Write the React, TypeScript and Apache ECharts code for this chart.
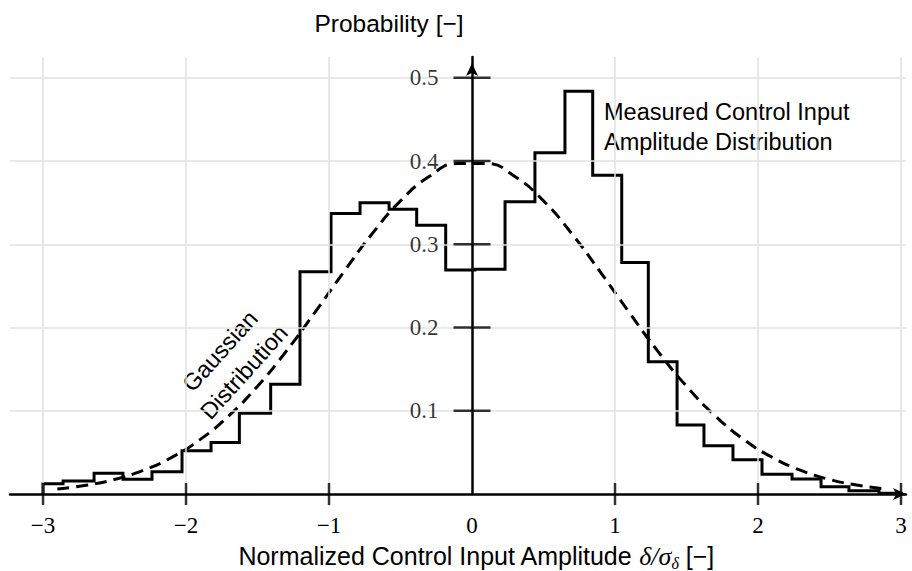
import React, { useEffect, useRef } from 'react';
import * as echarts from 'echarts';

// Histogram bin edges and heights
const binEdges = [-3.0, -2.86, -2.643, -2.441, -2.238, -2.028, -1.825, -1.627, -1.408, -1.203, -0.986, -0.783, -0.58, -0.387, -0.184, 0.02, 0.231, 0.44, 0.65, 0.844, 1.047, 1.233, 1.434, 1.622, 1.825, 2.028, 2.238, 2.441, 2.636, 2.846, 3.0];
const binHeights = [0.0124, 0.0156, 0.0248, 0.0176, 0.0268, 0.052, 0.062, 0.097, 0.132, 0.267, 0.337, 0.35, 0.342, 0.323, 0.269, 0.27, 0.351, 0.41, 0.484, 0.383, 0.278, 0.159, 0.083, 0.058, 0.041, 0.0236, 0.018, 0.0088, 0.004, 0.001];

// Gaussian curve points
const gaussX = [-2.9, -2.7, -2.5, -2.3, -2.1, -1.9, -1.7, -1.5, -1.3, -1.1, -0.9, -0.7, -0.5, -0.3, -0.1, 0.1, 0.3, 0.5, 0.7, 0.9, 1.1, 1.3, 1.5, 1.7, 1.9, 2.1, 2.3, 2.5, 2.7, 2.9];
const gaussY = [0.006, 0.0104, 0.0175, 0.0283, 0.044, 0.0656, 0.094, 0.1295, 0.1714, 0.2179, 0.2661, 0.3123, 0.3521, 0.3814, 0.397, 0.397, 0.3814, 0.3521, 0.3123, 0.2661, 0.2179, 0.1714, 0.1295, 0.094, 0.0656, 0.044, 0.0283, 0.0175, 0.0104, 0.006];

// Tick values
const xTicks = [-3, -2, -1, 0, 1, 2, 3];
const yTicks = [0.1, 0.2, 0.3, 0.4, 0.5];

const SANS = '"Liberation Sans", Arial, sans-serif';
const SERIF = '"Liberation Serif", "Times New Roman", serif';

export default function App() {
  const ref = useRef<HTMLDivElement>(null);
  useEffect(() => {
    if (!ref.current) return;
    const chart = echarts.init(ref.current, null, { renderer: 'svg' });

    const histPts: number[][] = [[binEdges[0], 0]];
    for (let i = 0; i < binHeights.length; i++) {
      histPts.push([binEdges[i], binHeights[i]]);
      histPts.push([binEdges[i + 1], binHeights[i]]);
    }
    histPts.push([binEdges[binEdges.length - 1], 0]);

    const gaussPts = gaussX.map((x, i) => [x, gaussY[i]]);
    const fmtX = (v: number) => {
      if (Math.abs(v - Math.round(v)) > 1e-6) return '';
      const r = Math.round(v);
      return r < 0 ? '\u2212' + Math.abs(r) : String(r);
    };

    const gridColor = '#e2e2e2';

    chart.setOption({
      animation: false,
      backgroundColor: '#ffffff',
      grid: { left: 10, right: 6, top: 57, bottom: 77, containLabel: false, outerBoundsMode: 'none' },
      xAxis: {
        type: 'value',
        min: -3.231,
        max: 3.035,
        z: 10,
        axisLine: {
          onZero: true,
          symbol: ['none', 'arrow'],
          symbolSize: [9, 13],
          lineStyle: { color: '#000', width: 2.5 },
        },
        axisTick: { show: false },
        splitLine: { show: false },
        axisLabel: {
          customValues: xTicks,
          formatter: fmtX,
          fontFamily: SERIF,
          fontSize: 23,
          color: '#000',
          margin: 20,
        },
      },
      yAxis: {
        type: 'value',
        min: 0,
        max: 0.525,
        interval: 0.1,
        z: 10,
        axisLine: {
          onZero: true,
          symbol: ['none', 'arrow'],
          symbolSize: [9, 13],
          symbolOffset: [0, -6],
          lineStyle: { color: '#000', width: 2.5 },
        },
        axisTick: { show: false },
        splitLine: { show: false },
        axisLabel: { show: false },
      },
      series: [
        {
          type: 'line',
          name: 'gridlines',
          data: [[0, 0]],
          symbol: 'none',
          lineStyle: { width: 0 },
          silent: true,
          z: 1,
          markLine: {
            silent: true,
            symbol: 'none',
            label: { show: false },
            lineStyle: { color: gridColor, width: 1.5, type: 'solid' },
            data: [
              ...xTicks.filter((v) => v !== 0).map((v) => ({ xAxis: v })),
              ...yTicks.map((v) => ({ yAxis: v })),
            ],
          },
        },
        {
          type: 'line',
          name: 'Gaussian',
          data: gaussPts,
          smooth: true,
          showSymbol: false,
          symbol: 'none',
          silent: true,
          z: 3,
          lineStyle: { color: '#000', width: 3, type: [12, 7] },
        },
        {
          type: 'line',
          name: 'Measured',
          data: histPts,
          showSymbol: false,
          symbol: 'none',
          silent: true,
          z: 4,
          lineStyle: { color: '#000', width: 3, join: 'miter' },
        },
        {
          type: 'scatter',
          name: 'xticks',
          data: xTicks.filter((v) => v !== 0).map((v) => [v, 0]),
          symbol: 'rect',
          symbolSize: [2.5, 22],
          itemStyle: { color: '#000' },
          silent: true,
          z: 11,
        },
        {
          type: 'scatter',
          name: 'yticks',
          data: yTicks.map((v) => [0, v]),
          symbol: 'rect',
          symbolSize: [37, 2.5],
          itemStyle: { color: '#000' },
          silent: true,
          z: 11,
          label: {
            show: true,
            position: 'left',
            distance: 15,
            formatter: (p: any) => Number(p.value[1]).toFixed(1),
            fontFamily: SERIF,
            fontSize: 23,
            color: '#000',
          },
        },
      ],
      graphic: [
        {
          type: 'text',
          x: 389,
          y: 23,
          style: {
            text: 'Probability [\u2212]',
            font: '24.5px ' + SANS,
            fill: '#000',
            align: 'center',
            verticalAlign: 'middle',
          },
        },
        {
          type: 'text',
          x: 476,
          y: 556,
          style: {
            text: '{a|Normalized Control Input Amplitude }{m|\u03b4/\u03c3}{s|\u03b4}{a| [\u2212]}',
            align: 'center',
            verticalAlign: 'middle',
            fill: '#000',
            rich: {
              a: { fontFamily: SANS, fontSize: 25, lineHeight: 30, verticalAlign: 'middle', fill: '#000' },
              m: { fontFamily: SERIF, fontStyle: 'italic', fontSize: 26, lineHeight: 30, verticalAlign: 'middle', fill: '#000' },
              s: { fontFamily: SERIF, fontStyle: 'italic', fontSize: 16, lineHeight: 16, verticalAlign: 'bottom', fill: '#000' },
            },
          },
        },
        {
          type: 'text',
          x: 604,
          y: 97,
          style: {
            text: 'Measured Control Input\nAmplitude Distribution',
            font: '23.5px ' + SANS,
            lineHeight: 30,
            fill: '#000',
            align: 'left',
            verticalAlign: 'top',
          },
        },
        {
          type: 'text',
          x: 220,
          y: 351,
          rotation: (48 * Math.PI) / 180,
          style: {
            text: 'Gaussian',
            font: '23.5px ' + SANS,
            fill: '#000',
            align: 'center',
            verticalAlign: 'middle',
          },
        },
        {
          type: 'text',
          x: 244,
          y: 372,
          rotation: (48 * Math.PI) / 180,
          style: {
            text: 'Distribution',
            font: '23.5px ' + SANS,
            fill: '#000',
            align: 'center',
            verticalAlign: 'middle',
          },
        },
      ],
    });
    return () => chart.dispose();
  }, []);
  return (
    <div
      ref={ref}
      style={{ position: 'fixed', left: 0, top: 0, width: 912, height: 571, background: '#fff' }}
    />
  );
}
